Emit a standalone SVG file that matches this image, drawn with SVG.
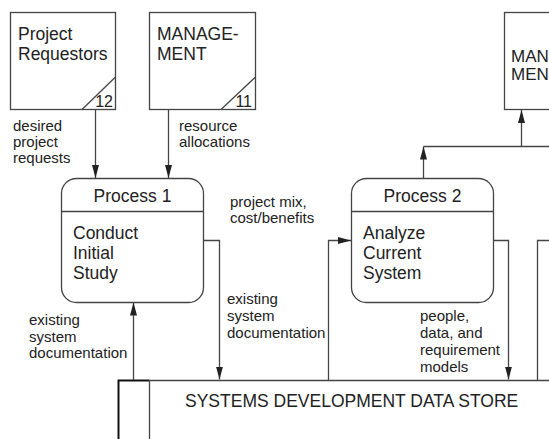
<svg xmlns="http://www.w3.org/2000/svg" width="549" height="439" viewBox="0 0 549 439">
<defs>
<style>
.t{font-family:"Liberation Sans",Arial,sans-serif;fill:#222}
.lbl{font-size:15px}
.big{font-size:17.5px}
.num{font-size:16px}
.box{fill:#fff;stroke:#444;stroke-width:1.3}
.ln{fill:none;stroke:#444;stroke-width:1.3}
.arr{fill:none;stroke:#444;stroke-width:1.3;marker-end:url(#ah)}
</style>
<marker id="ah" viewBox="0 0 13 7" refX="13" refY="3.5" markerWidth="13" markerHeight="7" markerUnits="userSpaceOnUse" orient="auto">
<path d="M0,0 L13,3.5 L0,7 z" fill="#222"/>
</marker>
</defs>
<rect width="549" height="439" fill="#fff"/>

<g id="ext-requestors">
<rect class="box" x="10.5" y="12.5" width="105" height="97"/>
<path class="ln" d="M82,109.5 L115.5,77"/>
<text class="t big" x="18" y="40">Project</text>
<text class="t big" x="18" y="60">Requestors</text>
<text class="t num" x="113" y="107" text-anchor="end">12</text>
</g>

<g id="ext-management">
<rect class="box" x="149.5" y="12.5" width="106" height="97"/>
<path class="ln" d="M221,109.5 L255.5,77"/>
<text class="t big" x="157" y="40">MANAGE-</text>
<text class="t big" x="157" y="60">MENT</text>
<text class="t num" x="252" y="107" text-anchor="end">11</text>
</g>

<g id="ext-management-2">
<rect class="box" x="504.5" y="12.5" width="80" height="97"/>
<text class="t" style="font-size:17px" x="511" y="62">MAN</text>
<text class="t" style="font-size:17px" x="511" y="80">MEN</text>
</g>

<g id="process-1">
<rect class="box" x="61.5" y="178.5" width="142" height="124" rx="15" ry="15"/>
<line class="ln" x1="61.5" y1="211.5" x2="203.5" y2="211.5"/>
<text class="t big" x="132.5" y="202" text-anchor="middle">Process 1</text>
<text class="t big" x="73" y="239">Conduct</text>
<text class="t big" x="73" y="259">Initial</text>
<text class="t big" x="73" y="279">Study</text>
</g>

<g id="process-2">
<rect class="box" x="351.5" y="178.5" width="142" height="124" rx="15" ry="15"/>
<line class="ln" x1="351.5" y1="211.5" x2="493.5" y2="211.5"/>
<text class="t big" x="422.5" y="202" text-anchor="middle">Process 2</text>
<text class="t big" x="363" y="239">Analyze</text>
<text class="t big" x="363" y="259">Current</text>
<text class="t big" x="363" y="279">System</text>
</g>

<g id="data-store">
<path class="ln" d="M149.5,380.5 H549"/>
<path fill="none" stroke="#111" stroke-width="2" d="M118.5,440 V380.5 H149.5"/>
<line class="ln" x1="149.5" y1="380.5" x2="149.5" y2="440"/>
<text class="t big" x="185" y="407">SYSTEMS DEVELOPMENT DATA STORE</text>
</g>

<g id="connectors">
<path class="arr" d="M95.5,110 V178"/>
<path class="arr" d="M168.5,110 V178"/>
<path class="arr" d="M203.5,240.5 H219.5 V379.5"/>
<path class="arr" d="M133.5,380 V302.5"/>
<path class="arr" d="M328.5,380 V240.5 H351"/>
<path class="arr" d="M493.5,240.5 H508.5 V379.5"/>
<path class="ln" d="M549,240.5 H537.5 V380"/>
<path class="arr" d="M423.5,178 V146.5"/>
<path class="ln" d="M423.5,146.5 H549"/>
<path class="arr" d="M521.5,146.5 V110"/>
</g>

<g id="labels">
<text class="t lbl" x="13" y="131">desired</text>
<text class="t lbl" x="13" y="147">project</text>
<text class="t lbl" x="13" y="163">requests</text>
<text class="t lbl" x="179" y="131">resource</text>
<text class="t lbl" x="179" y="147">allocations</text>
<text class="t lbl" x="230" y="207">project mix,</text>
<text class="t lbl" x="230" y="223">cost/benefits</text>
<text class="t lbl" x="227" y="304">existing</text>
<text class="t lbl" x="227" y="321">system</text>
<text class="t lbl" x="227" y="338">documentation</text>
<text class="t lbl" x="29" y="325">existing</text>
<text class="t lbl" x="29" y="341.5">system</text>
<text class="t lbl" x="29" y="358">documentation</text>
<text class="t lbl" x="420" y="321">people,</text>
<text class="t lbl" x="420" y="338">data, and</text>
<text class="t lbl" x="420" y="355">requirement</text>
<text class="t lbl" x="420" y="372">models</text>
</g>
</svg>
